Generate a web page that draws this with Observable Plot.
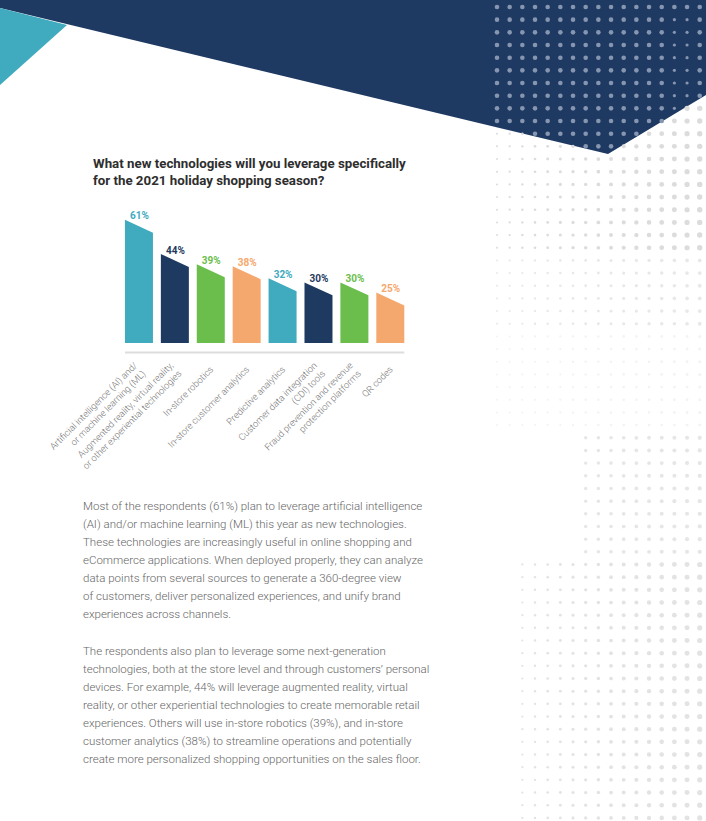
<!DOCTYPE html>
<html>
<head>
<meta charset="utf-8">
<script src="https://cdn.jsdelivr.net/npm/d3@7"></script>
<script src="https://cdn.jsdelivr.net/npm/@observablehq/plot@0.6"></script>
<style>
  html, body { margin: 0; padding: 0; background: #fff; }
  #page { position: relative; width: 706px; height: 821px; overflow: hidden; background: #fff; font-family: Roboto, "Noto Sans", sans-serif; }
  #bg { position: absolute; left: 0; top: 0; }
  #title { position: absolute; left: 93px; top: 155px; font-size: 13.3px; line-height: 17px; font-weight: 700; color: #2e2e2e; white-space: nowrap; }
  #chart { position: absolute; left: 0; top: 195px; }
  .para { position: absolute; left: 83px; font-size: 11.5px; line-height: 18px; font-weight: 300; color: #666; white-space: nowrap; }
</style>
</head>
<body>
<div id="page">
  <svg id="bg" width="706" height="821"></svg>
  <div id="title">What new technologies will you leverage specifically<br>for the 2021 holiday shopping season?</div>
  <div id="chart"></div>
  <div class="para" style="top:497px">Most of the respondents (61%) plan to leverage artificial intelligence<br>(AI) and/or machine learning (ML) this year as new technologies.<br>These technologies are increasingly useful in online shopping and<br>eCommerce applications. When deployed properly, they can analyze<br>data points from several sources to generate a 360-degree view<br>of customers, deliver personalized experiences, and unify brand<br>experiences across channels.</div>
  <div class="para" style="top:642px">The respondents also plan to leverage some next-generation<br>technologies, both at the store level and through customers’ personal<br>devices. For example, 44% will leverage augmented reality, virtual<br>reality, or other experiential technologies to create memorable retail<br>experiences. Others will use in-store robotics (39%), and in-store<br>customer analytics (38%) to streamline operations and potentially<br>create more personalized shopping opportunities on the sales floor.</div>
</div>
<script>
// ---- data ----
const categories = [
  "Artificial intelligence (AI) and/\nor machine learning (ML)",
  "Augmented reality, virtual reality,\nor other experiential technologies",
  "In-store robotics",
  "In-store customer analytics",
  "Predictive analytics",
  "Customer data integration\n(CDI) tools",
  "Fraud prevention and revenue\nprotection platforms",
  "QR codes"
];
const values = [61, 44, 39, 38, 32, 30, 30, 25];
const barColors = ["#40aabf", "#1f3a61", "#6bbe4c", "#f5a86e", "#40aabf", "#1f3a61", "#6bbe4c", "#f5a86e"];

// ---- decoration (background) ----
(function () {
  const svg = d3.select("#bg");
  const navyPoly = [[0,0],[706,0],[706,95],[608,154],[0,8]];
  svg.append("polygon").attr("points", navyPoly.map(p => p.join(",")).join(" ")).attr("fill", "#1f3a62");
  svg.append("polygon").attr("points", "0,8 67,25 0,85").attr("fill", "#40aabf");
  const inside = (x, y) => d3.polygonContains(navyPoly, [x, y]);
  const step = 12.67;
  for (let r = 0; r < 65; r++) {
    for (let c = 0; c < 17; c++) {
      const x = 497 + c * step, y = 7 + r * step;
      let rad, col;
      if (inside(x, y)) {
        rad = (c >= 14 && c <= 15 && r >= 1 && r <= 8) ? 1.6 : 2.3;
        col = "#8796b0";
      } else {
        const t = c / 16;
        if (y < 250) { rad = 1.0 + 1.7 * t; col = "#dcdcdc"; }
        else if (y < 330) { rad = 1.0 + 0.9 * t; col = "#e8e8e8"; }
        else if (y < 430) { rad = 1.0 + 0.5 * t; col = "#f3f3f3"; }
        else if (y < 560) { if (c < 7) continue; rad = 1.4 + 0.7 * t; col = "#e6e6e6"; }
        else { if (c < 2) continue; rad = 0.9 + 1.7 * t; col = "#e3e3e3"; }
      }
      svg.append("circle").attr("cx", x).attr("cy", y).attr("r", rad).attr("fill", col);
    }
  }
})();

// ---- chart ----
const half = 0.39;      // half bar width in index units
const slant = 6.4;      // drop of the slanted top, in value units
const rows = categories.map((cat, i) => ({ i, cat, value: values[i] }));
const shape = rows.flatMap(d => [
  { cat: d.cat, x: d.i - half, y: d.value },
  { cat: d.cat, x: d.i + half, y: d.value - slant }
]);

const chart = Plot.plot({
  width: 450,
  height: 265,
  marginLeft: 121,
  marginRight: 41.75,
  marginTop: 6.6,
  marginBottom: 117,
  style: { fontFamily: "Roboto, sans-serif", background: "transparent", overflow: "visible" },
  x: { type: "linear", domain: [-0.5, 7.5], axis: null },
  y: { domain: [0, 70], axis: null },
  color: { domain: categories, range: barColors },
  marks: [
    Plot.areaY(shape, { x: "x", y1: 0, y2: "y", z: "cat", fill: "cat", curve: "linear" }),
    Plot.ruleY([0], { x1: -half, x2: categories.length - 1 + half, dy: 9, stroke: "#dddddd", strokeWidth: 2 }),
    Plot.text(rows, { x: "i", y: "value", text: d => d.value + "%", fill: "cat", dy: -4, fontSize: 10, fontWeight: 700, lineAnchor: "middle" }),
    Plot.text(rows, { x: "i", y: 0, text: "cat", dy: 24, rotate: -45, textAnchor: "end", lineAnchor: "middle", fontSize: 9.3, lineHeight: 1.25, fill: "#777", fontWeight: 300 })
  ]
});
document.getElementById("chart").appendChild(chart);
</script>
</body>
</html>
